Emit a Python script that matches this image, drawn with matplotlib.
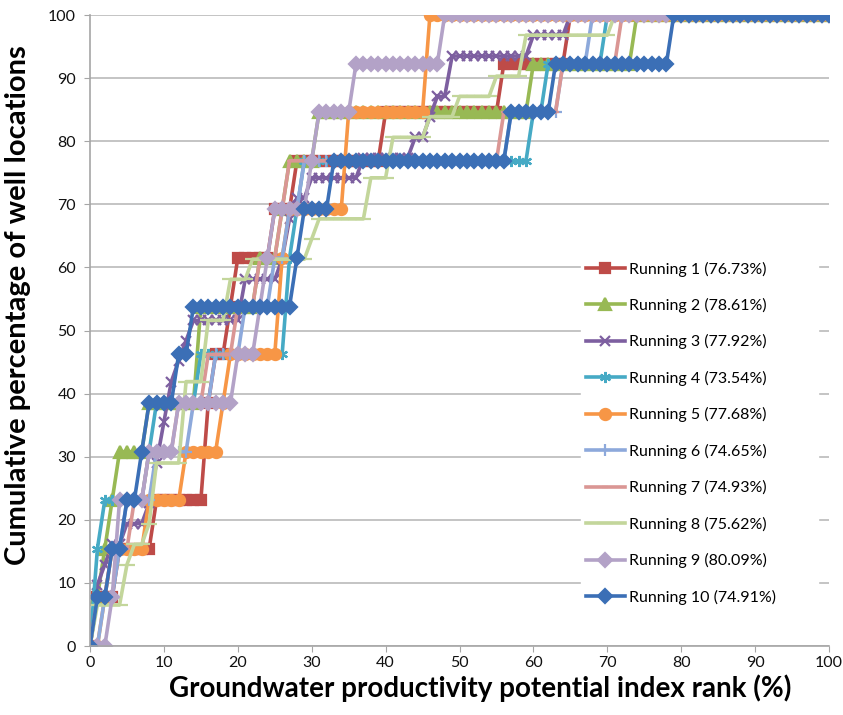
import numpy as np
import matplotlib
matplotlib.use("Agg")
import matplotlib.pyplot as plt

plt.rcParams['font.family'] = ['Lato', 'DejaVu Sans']

# rank positions (x, %) where each run's cumulative percentage steps up, and the level reached
r1_x = [0, 1, 4, 9, 16, 17, 19, 20, 25, 28, 40, 56, 65]
r1_y = [0, 7.7, 15.4, 23.1, 38.5, 46.2, 53.8, 61.5, 69.2, 76.9, 84.6, 92.3, 100]

r2_x = [0, 1, 2, 3, 4, 8, 15, 23, 26, 27, 31, 60, 74]
r2_y = [0, 7.7, 15.4, 23.1, 30.8, 38.5, 53.8, 61.5, 69.2, 76.9, 84.6, 92.3, 100]

r3_x = [0, 1, 2, 3, 5, 8, 9, 10, 11, 12, 13, 14, 21, 26, 27, 28, 30, 37, 44, 46, 47, 49, 60, 65]
r3_y = [0, 9.7, 12.9, 16.1, 19.4, 22.6, 29.0, 35.5, 41.9, 45.2, 48.4, 51.6, 58.1, 61.3,
        67.7, 71.0, 74.2, 77.4, 80.6, 83.9, 87.1, 93.5, 96.8, 100]

r4_x = [0, 1, 2, 8, 9, 15, 27, 28, 29, 60, 62, 70]
r4_y = [0, 15.4, 23.1, 30.8, 38.5, 46.2, 61.5, 69.2, 76.9, 84.6, 92.3, 100]

r5_x = [0, 2, 3, 8, 13, 18, 19, 26, 27, 35, 46]
r5_y = [0, 7.7, 15.4, 23.1, 30.8, 38.5, 46.2, 61.5, 69.2, 84.6, 100]

r6_x = [0, 2, 4, 5, 9, 14, 17, 21, 25, 27, 29, 57, 64, 68]
r6_y = [0, 7.7, 15.4, 23.1, 30.8, 38.5, 46.2, 53.8, 61.5, 69.2, 76.9, 84.6, 92.3, 100]

r7_x = [0, 1, 3, 6, 8, 12, 16, 20, 23, 26, 27, 56, 64, 72]
r7_y = [0, 7.7, 15.4, 23.1, 30.8, 38.5, 46.2, 53.8, 61.5, 69.2, 76.9, 84.6, 92.3, 100]

r8_x = [0, 1, 5, 6, 8, 9, 13, 16, 19, 22, 30, 31, 38, 41, 46, 50, 55, 59, 71]
r8_y = [0, 6.5, 12.9, 16.1, 19.4, 29.0, 41.9, 51.6, 58.1, 61.3, 64.5, 67.7, 74.2, 80.6,
        83.9, 87.1, 90.3, 96.8, 100]

r9_x = [0, 3, 4, 8, 12, 20, 23, 24, 25, 30, 31, 36, 48]
r9_y = [0, 7.7, 23.1, 30.8, 38.5, 46.2, 53.8, 61.5, 69.2, 76.9, 84.6, 92.3, 100]

r10_x = [0, 1, 3, 5, 7, 8, 12, 14, 28, 29, 33, 57, 63, 79]
r10_y = [0, 7.7, 15.4, 23.1, 30.8, 38.5, 46.2, 53.8, 61.5, 69.2, 76.9, 84.6, 92.3, 100]

labels = ["Running 1 (76.73%)", "Running 2 (78.61%)", "Running 3 (77.92%)",
          "Running 4 (73.54%)", "Running 5 (77.68%)", "Running 6 (74.65%)",
          "Running 7 (74.93%)", "Running 8 (75.62%)", "Running 9 (80.09%)",
          "Running 10 (74.91%)"]

ranks = np.arange(0, 101)

series = [(r1_x, r1_y), (r2_x, r2_y), (r3_x, r3_y), (r4_x, r4_y), (r5_x, r5_y),
          (r6_x, r6_y), (r7_x, r7_y), (r8_x, r8_y), (r9_x, r9_y), (r10_x, r10_y)]

colors = ["#BE4B48", "#98B954", "#7D5FA0", "#46AAC5", "#F79646",
          "#8DA9DB", "#DA9694", "#C3D69B", "#B3A2C7", "#3B6FB6"]
markers = ['s', '^', 'x', (6, 2, 0), 'o', '+', '_', '_', 'D', 'D']
msizes = [7.5, 8.5, 7, 8, 8, 8, 5, 11, 7, 7]

fig = plt.figure(figsize=(8.43, 7.15), dpi=100)
ax = fig.add_axes([90 / 843, 0.0965, 739 / 843, 0.8825])

for (sx, sy), c, m, ms, lab in zip(series, colors, markers, msizes, labels):
    idx = np.searchsorted(sx, ranks, side='right') - 1
    yy = np.asarray(sy)[idx]
    ax.plot(ranks, yy, color=c, lw=2.6, marker=m, markersize=ms,
            markeredgewidth=1.6, markerfacecolor=c, markeredgecolor=c, label=lab)

ax.set_xlim(0, 100)
ax.set_ylim(0, 100)
ax.set_xticks(np.arange(0, 101, 10))
ax.set_yticks(np.arange(0, 101, 10))
ax.yaxis.grid(True, color="#BFBFBF", lw=1.3)
ax.set_axisbelow(True)
for s in ['top', 'right']:
    ax.spines[s].set_visible(False)
for s in ['left', 'bottom']:
    ax.spines[s].set_color("#A6A6A6")
    ax.spines[s].set_linewidth(1.2)
ax.tick_params(axis='both', colors="#A6A6A6", length=4, labelsize=11.5, labelcolor="#111111")
ax.tick_params(axis='y', pad=6)

ax.set_xlabel("Groundwater productivity potential index rank (%)", fontsize=20,
              fontweight='bold')
ax.xaxis.set_label_coords(0.528, -0.045)
ax.set_ylabel("Cumulative percentage of well locations", fontsize=21,
              fontweight='bold')
ax.yaxis.set_label_coords(-0.080, 0.54)

leg = ax.legend(loc='upper left', bbox_to_anchor=(0.665, 0.617, 0.32, 0.0),
                mode='expand', frameon=True,
                fontsize=11.5, labelspacing=1.34, handlelength=2.4,
                handletextpad=0.3, borderpad=0.3, borderaxespad=0)
leg.get_frame().set_edgecolor('white')
leg.get_frame().set_facecolor('white')
leg.get_frame().set_alpha(1)
leg.get_frame().set_boxstyle('square', pad=0)

fig.savefig("out.png", dpi=100, facecolor='white')
